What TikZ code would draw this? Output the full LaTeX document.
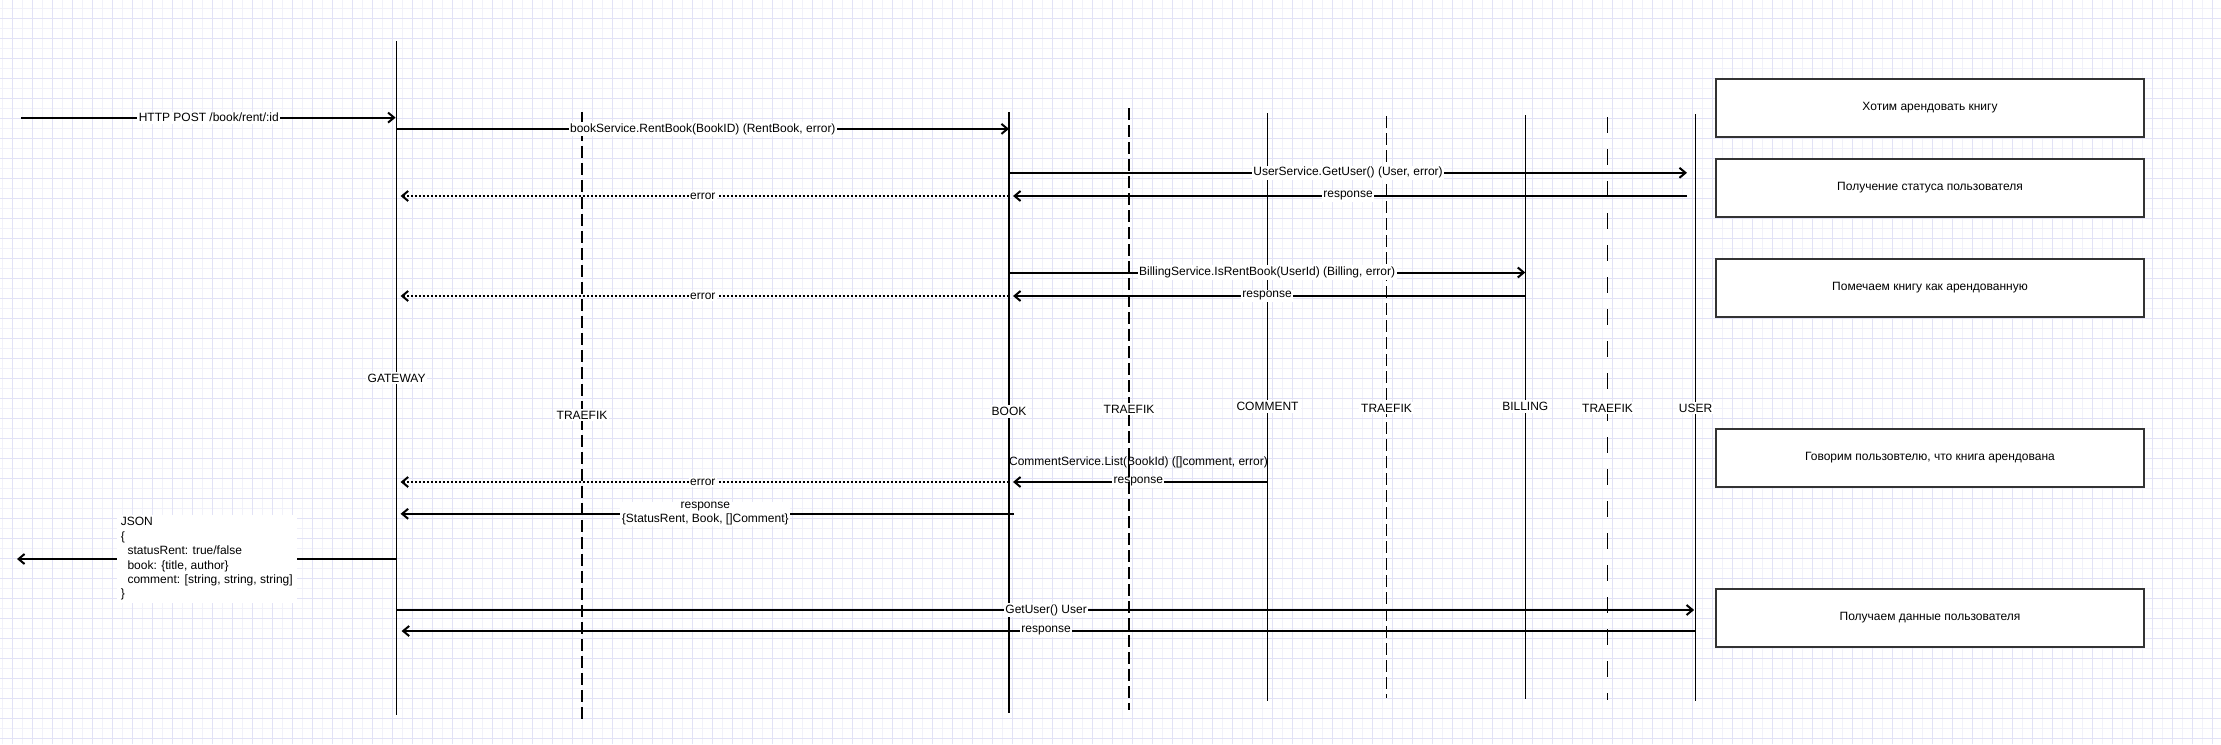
\documentclass[tikz,border=0pt]{standalone}
\usepackage{fontspec}
\setmainfont{Liberation Sans}
\usetikzlibrary{arrows.meta}
\definecolor{gridstrong}{RGB}{226,226,246}
\definecolor{gridfaint}{RGB}{241,241,250}
\definecolor{boxline}{RGB}{51,51,51}
\begin{document}
\begin{tikzpicture}[x=1pt,y=-1pt,
  font=\fontsize{12}{14.4}\selectfont,
  life/.style={line width=1.3pt},
  lifedash/.style={line width=1.5pt, dash pattern=on 12pt off 5pt},
  lifedashlong/.style={line width=1.5pt, dash pattern=on 16pt off 16pt},
  tipopen/.style={-{Straight Barb[length=6pt,width=10pt]}},
  msg/.style={line width=2pt, tipopen},
  ret/.style={msg, shorten >=4pt},
  err/.style={line width=2pt, dash pattern=on 2pt off 2pt, tipopen, shorten >=4pt},
  lbl/.style={fill=white, inner sep=1.5pt},
  lifelbl/.style={fill=white, inner sep=2pt},
  note/.style={draw=boxline, line width=2pt, fill=white, minimum width=428pt, minimum height=58pt, inner sep=0pt}
]
\useasboundingbox (0,0) rectangle (2221,744);
\fill[white] (0,0) rectangle (2221,744);
% grid
\foreach \x in {2.3,22.3,...,2221} \draw[gridfaint, line width=1pt] (\x,0) -- (\x,744);
\foreach \y in {8.3,28.3,...,744} \draw[gridfaint, line width=1pt] (0,\y) -- (2221,\y);
\foreach \x in {12.3,32.3,...,2221} \draw[gridstrong, line width=1pt] (\x,0) -- (\x,744);
\foreach \y in {18.3,38.3,...,744} \draw[gridstrong, line width=1pt] (0,\y) -- (2221,\y);

% lifeline end points
\coordinate (GWt) at (396.6,41);   \coordinate (GWb) at (396.6,715);
\coordinate (TR1t) at (582,112);   \coordinate (TR1b) at (582,722);
\coordinate (BOOKt) at (1009,112); \coordinate (BOOKb) at (1009,713);
\coordinate (TR2t) at (1129,108);  \coordinate (TR2b) at (1129,710);
\coordinate (COMt) at (1267.5,113); \coordinate (COMb) at (1267.5,701);
\coordinate (TR3t) at (1386.5,116); \coordinate (TR3b) at (1386.5,698);
\coordinate (BILLt) at (1525.3,115); \coordinate (BILLb) at (1525.3,699);
\coordinate (TR4t) at (1607.5,117); \coordinate (TR4b) at (1607.5,700);
\coordinate (USERt) at (1695.6,114); \coordinate (USERb) at (1695.6,701);
\coordinate (USERin) at (1687,114);
\coordinate (BOOKout) at (1014,112);
\coordinate (client) at (21,117.6);
\coordinate (clientret) at (17,559);

% message rows
\coordinate (m1) at (0,117.6);
\coordinate (m2) at (0,128.9);
\coordinate (m3) at (0,172.8);
\coordinate (m4) at (0,196);
\coordinate (m5) at (0,272.5);
\coordinate (m6) at (0,296);
\coordinate (m8) at (0,482);
\coordinate (m9) at (0,513.8);
\coordinate (m10) at (0,559);
\coordinate (m11) at (0,610);
\coordinate (m12) at (0,631);

% lifelines
\draw[life] (GWt) -- (GWb);
\draw[lifedash] (TR1t) -- (TR1b);
\draw[life] (BOOKt) -- (BOOKb);
\draw[life] (COMt) -- (COMb);
\draw[lifedash] (TR3t) -- (TR3b);
\draw[life] (BILLt) -- (BILLb);
\draw[lifedashlong] (TR4t) -- (TR4b);
\draw[life] (USERt) -- (USERb);

% messages
\draw[msg, shorten >=1pt] (client) -- node[lbl] (l1) {HTTP POST /book/rent/:id} (GWt |- m1);
\draw[msg] (GWt |- m2) -- node[lbl] (l2) {bookService.RentBook(BookID) (RentBook, error)} (BOOKt |- m2);
\draw[msg] (BOOKt |- m3) -- node[lbl] (l3) {UserService.GetUser() (User, error)} (USERin |- m3);
\draw[ret] (USERin |- m4) -- node[lbl] (l4) {response} (BOOKt |- m4);
\draw[err] (BOOKt |- m4) -- node[lbl] (l5) {error} (GWt |- m4);
\draw[msg] (BOOKt |- m5) -- node[lbl] (l6) {BillingService.IsRentBook(UserId) (Billing, error)} (BILLt |- m5);
\draw[ret] (BILLt |- m6) -- node[lbl] (l7) {response} (BOOKt |- m6);
\draw[err] (BOOKt |- m6) -- node[lbl] (l8) {error} (GWt |- m6);
\node (l9) at (1138.5,462.5) {CommentService.List(BookId) ([]comment, error)};
\draw[ret] (COMt |- m8) -- node[lbl] (l10) {response} (BOOKt |- m8);
\draw[err] (BOOKt |- m8) -- node[lbl] (l11) {error} (GWt |- m8);
\draw[ret] (BOOKout |- m9) -- node[lbl, align=center, inner ysep=0.5pt] (l12) {response\\\{StatusRent, Book, []Comment\}} (GWt |- m9);
\draw[msg] (GWt |- m10) -- node[lbl, align=left, inner xsep=4pt, inner ysep=3pt] (l13)
  {JSON\\\{\\\hspace*{6.7pt}statusRent: true/false\\\hspace*{6.7pt}book: \{title, author\}\\\hspace*{6.7pt}comment: [string, string, string]\\\}} (clientret);
\draw[msg, shorten >=1.5pt] (GWt |- m11) -- node[lbl] (l14) {GetUser() User} (USERt |- m11);
\draw[ret, shorten >=5pt] (USERt |- m12) -- node[lbl] (l15) {response} (GWt |- m12);

% TRAEFIK lifeline that shows through the comment labels
\draw[lifedash] (TR2t) -- (TR2b);

% lifeline labels
\node[lifelbl] (nGW) at (396.6,378) {GATEWAY};
\node[lifelbl] (nTR1) at (582,415) {TRAEFIK};
\node[lifelbl] (nBOOK) at (1009,411.5) {BOOK};
\node[lifelbl] (nTR2) at (1129,409) {TRAEFIK};
\node[lifelbl] (nCOM) at (1267.5,406.5) {COMMENT};
\node[lifelbl] (nTR3) at (1386.5,408) {TRAEFIK};
\node[lifelbl] (nBILL) at (1525.3,406.5) {BILLING};
\node[lifelbl] (nTR4) at (1607.5,408) {TRAEFIK};
\node[lifelbl] (nUSER) at (1695.6,408) {USER};

% notes
\node[note] (b1) at (1930,108) {Хотим арендовать книгу};
\node[note] (b2) at (1930,187.5) {Получение статуса пользователя};
\node[note] (b3) at (1930,287.5) {Помечаем книгу как арендованную};
\node[note] (b4) at (1930,458) {Говорим пользовтелю, что книга арендована};
\node[note] (b5) at (1930,618) {Получаем данные пользователя};
\end{tikzpicture}
\end{document}
